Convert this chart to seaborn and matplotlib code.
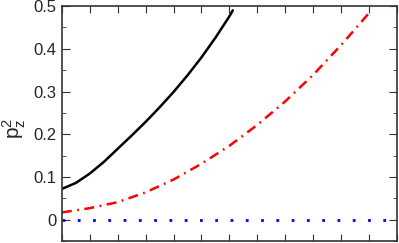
import matplotlib
matplotlib.use("Agg")
import matplotlib.pyplot as plt
import seaborn as sns
from matplotlib.ticker import MultipleLocator, NullFormatter

# data (x in arbitrary units, 12 tick intervals)
x_black = [0, 0.5, 1, 1.5, 2, 2.5, 3, 3.5, 4, 4.5, 5, 5.5, 6, 6.12]
y_black = [0.072, 0.086, 0.108, 0.135, 0.166, 0.197, 0.229, 0.263, 0.299, 0.338, 0.38, 0.426, 0.476, 0.49]

x_red = [0, 1, 2, 3, 4, 5, 6, 7, 8, 9, 10, 10.5, 11, 11.05]
y_red = [0.017, 0.027, 0.041, 0.064, 0.094, 0.131, 0.173, 0.222, 0.277, 0.339, 0.409, 0.446, 0.484, 0.489]

x_blue = [0, 12]
y_blue = [0, 0]

y_ticks = [0, 0.1, 0.2, 0.3, 0.4, 0.5]
y_ticklabels = ["0", "0.1", "0.2", "0.3", "0.4", "0.5"]

sns.set_style("ticks")
plt.rcParams["font.family"] = ["Liberation Sans", "DejaVu Sans"]
plt.rcParams["mathtext.fontset"] = "custom"
plt.rcParams["mathtext.rm"] = "Liberation Sans"
plt.rcParams["mathtext.it"] = "Liberation Sans"

fig = plt.figure(figsize=(3.99, 2.43), dpi=100)
ax = fig.add_axes([0.155, 0.008, 0.84, 0.967])

sns.lineplot(x=x_blue, y=y_blue, ax=ax, color="#0000ff", lw=2, linestyle=(0, (1, 4.5)))
sns.lineplot(x=x_red, y=y_red, ax=ax, color="#ff0000", lw=1.8, linestyle=(0, (4, 2.2, 0.7, 2.2)))
sns.lineplot(x=x_black, y=y_black, ax=ax, color="black", lw=1.8)

ax.set_xlim(0, 12)
ax.set_ylim(-0.05, 0.5)
ax.xaxis.set_major_locator(MultipleLocator(1))
ax.xaxis.set_major_formatter(NullFormatter())
ax.set_yticks(y_ticks)
ax.set_yticklabels(y_ticklabels)
ax.yaxis.set_minor_locator(MultipleLocator(0.05))
ax.tick_params(axis="both", which="both", direction="in", top=True, right=True, color="#333333")
ax.tick_params(axis="y", which="major", length=6, labelsize=12, pad=4)
ax.tick_params(axis="y", which="minor", length=3)
ax.tick_params(axis="x", which="major", length=5)
for s in ax.spines.values():
    s.set_color("#333333")
    s.set_linewidth(1.2)

ax.set_ylabel(r"$\mathregular{p_z^2}$", fontsize=15)
ax.yaxis.set_label_coords(-0.1, 0.48)

fig.savefig("out.png", dpi=100)
